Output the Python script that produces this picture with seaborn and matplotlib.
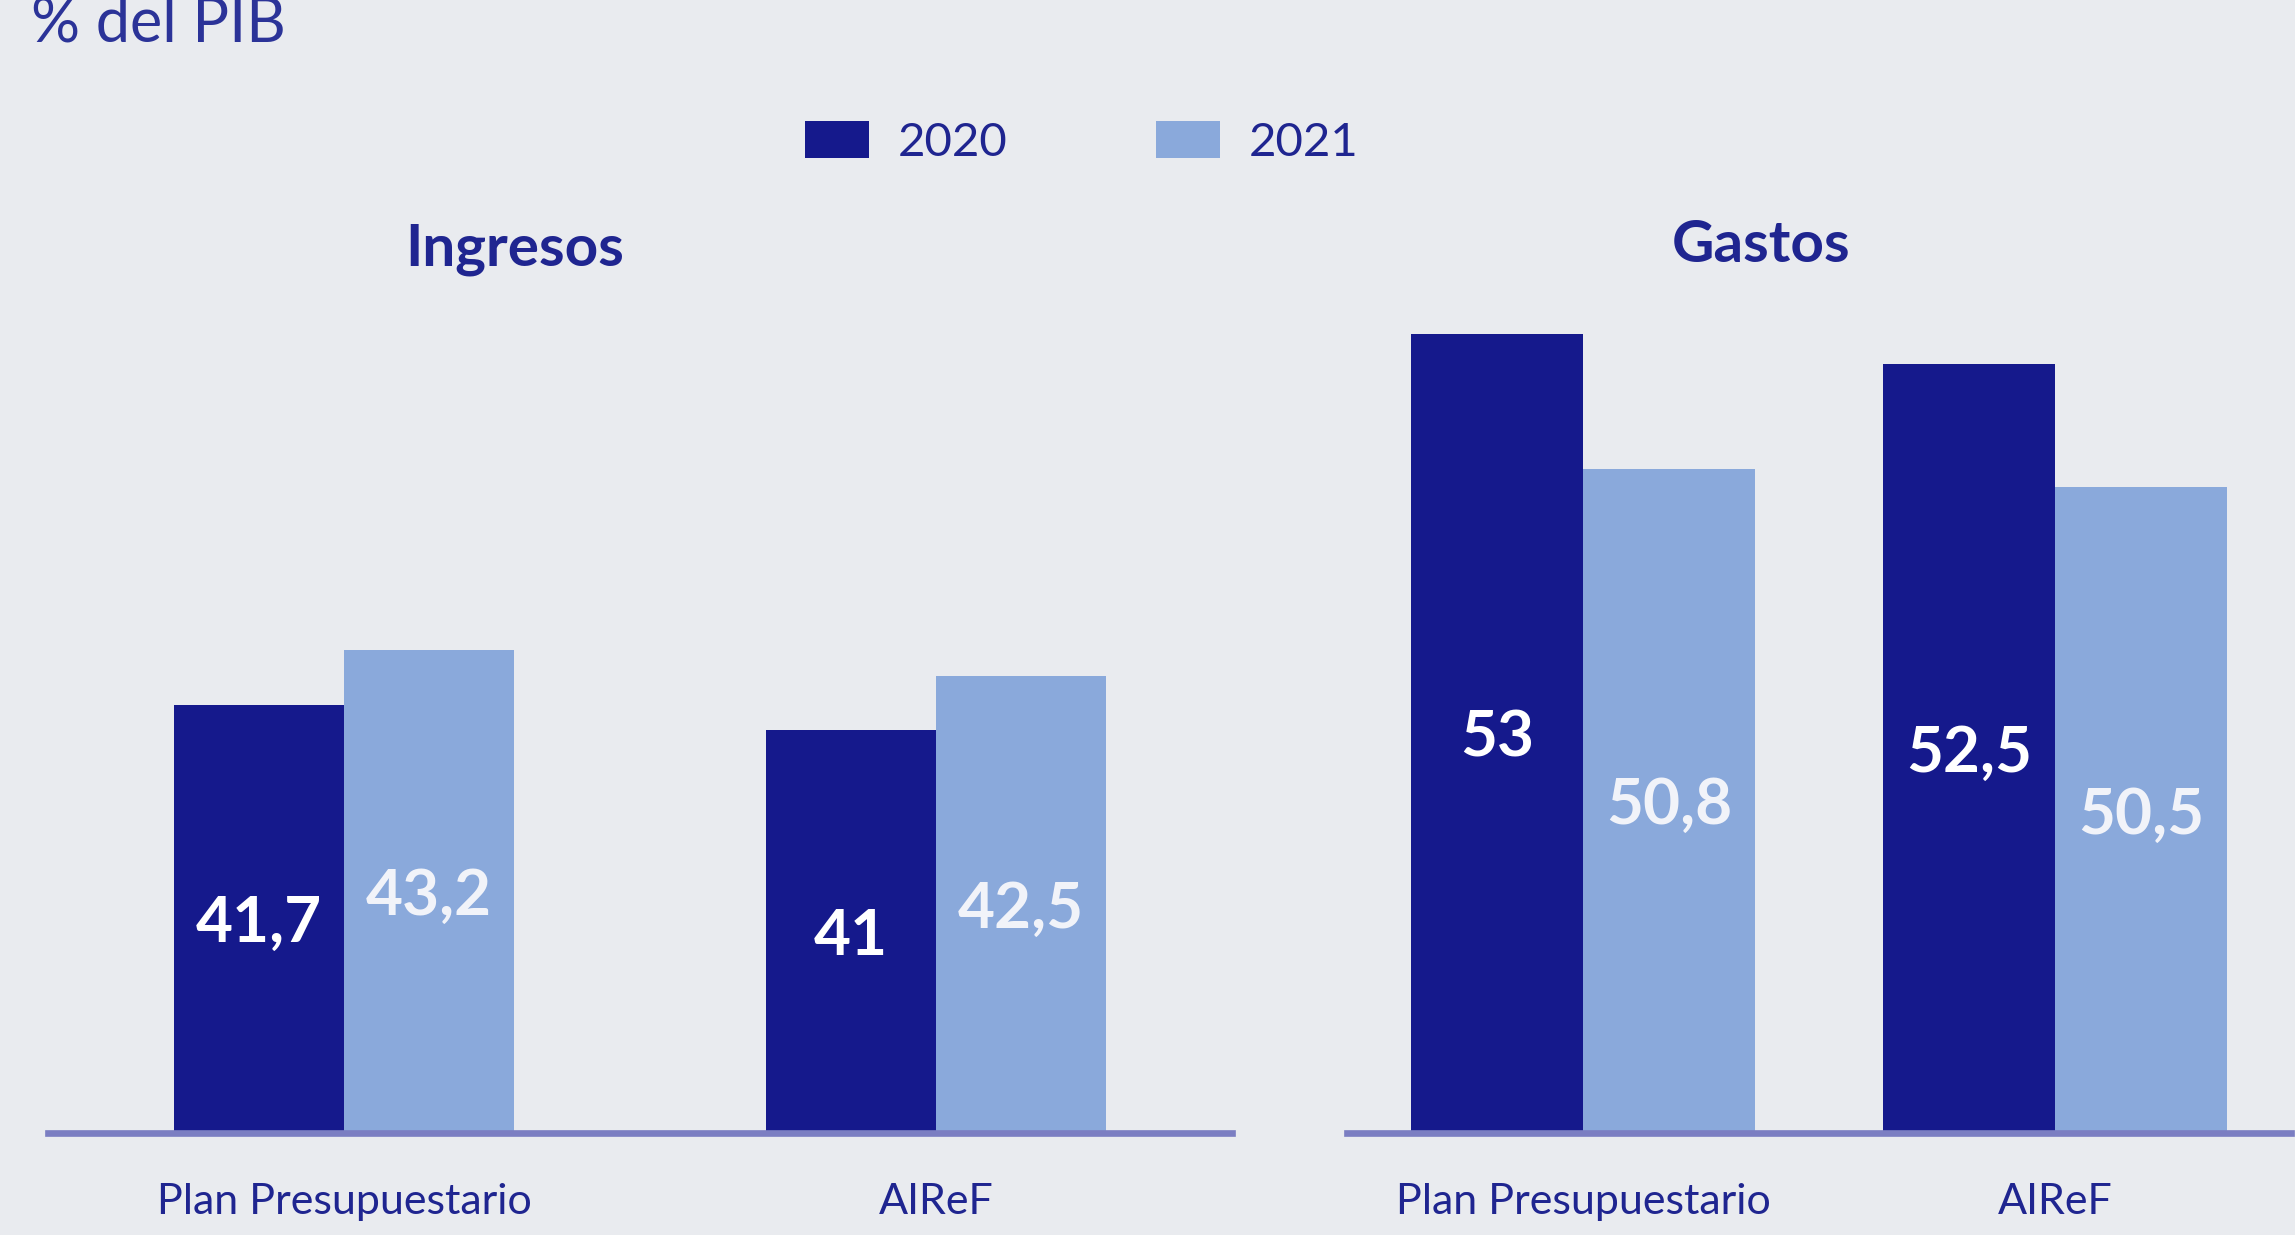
import matplotlib
matplotlib.use('Agg')
import matplotlib.pyplot as plt
import seaborn as sns
import pandas as pd

# ------------------------------------------------------------ #
# Data (% del PIB)
# ------------------------------------------------------------ #
categorias = ['Plan Presupuestario', 'AIReF']
anios = ['2020', '2021']
ingresos_2020 = [41.7, 41.0]
ingresos_2021 = [43.2, 42.5]
gastos_2020 = [53.0, 52.5]
gastos_2021 = [50.8, 50.5]

titulo = '% del PIB'
paneles = ['Ingresos', 'Gastos']

navy = '#15198c'
light = '#8aa9db'
text_navy = '#1f2590'
bg = '#e9ebef'


def long_df(v2020, v2021):
    rows = []
    for cat, a, b in zip(categorias, v2020, v2021):
        rows.append({'categoria': cat, 'anio': anios[0], 'valor': a})
        rows.append({'categoria': cat, 'anio': anios[1], 'valor': b})
    return pd.DataFrame(rows)


def fmt(v):
    s = ('%g' % v)
    return s.replace('.', ',')


sns.set_theme(style='white')
plt.rcParams['font.family'] = ['Lato', 'DejaVu Sans']

fig = plt.figure(figsize=(22.95, 12.35), dpi=100, facecolor=bg)

W, H = 2295, 1235
ax_l = fig.add_axes([48 / W, 1 - 1133 / H, 1184 / W, 833 / H])
ax_r = fig.add_axes([1347 / W, 1 - 1133 / H, 944 / W, 833 / H])

specs = [
    (ax_l, long_df(ingresos_2020, ingresos_2021), 0.575, (30, 30 + 833 / 36.6)),
    (ax_r, long_df(gastos_2020, gastos_2021), 0.73, (40, 40 + 833 / 61.5)),
]

for ax, df, w, ylim in specs:
    ax.set_facecolor('none')
    sns.barplot(data=df, x='categoria', y='valor', hue='anio',
                palette=[navy, light], width=w, saturation=1,
                linewidth=0, ax=ax, legend=True)
    ax.set_xlim(-0.5, 1.5)
    ax.set_ylim(*ylim)
    ax.set_xlabel('')
    ax.set_ylabel('')
    ax.set_yticks([])
    for side in ['top', 'left', 'right']:
        ax.spines[side].set_visible(False)
    ax.spines['bottom'].set_color('#7b7ec2')
    ax.spines['bottom'].set_linewidth(4.8)
    ax.tick_params(axis='x', length=0, pad=36, labelsize=31, labelcolor=text_navy)

    # value labels in the middle of the visible part of each bar
    for cont, col in zip(ax.containers, ['white', '#f1f3f9']):
        for patch, v in zip(cont.patches, cont.datavalues):
            x = patch.get_x() + patch.get_width() / 2
            ax.text(x, (ylim[0] + v) / 2, fmt(v), ha='center', va='center_baseline',
                    fontsize=46, fontweight='bold', color=col)

handles, labels = ax_l.get_legend_handles_labels()
ax_l.get_legend().remove()
ax_r.get_legend().remove()

fig.legend(handles, labels, loc='center', bbox_to_anchor=(1082 / W, 1 - 142.5 / H),
           ncol=2, frameon=False, fontsize=34, labelcolor=text_navy,
           handlelength=1.34, handleheight=0.81, handletextpad=0.62,
           columnspacing=3.15, borderpad=0)

fig.text(31 / W, 1 - 42 / H, titulo, ha='left', va='baseline',
         fontsize=44, fontweight='normal', color='#2b3398')
fig.text(515 / W, 1 - 265 / H, paneles[0], ha='center', va='baseline',
         fontsize=42, fontweight='bold', color=text_navy)
fig.text(1761 / W, 1 - 262 / H, paneles[1], ha='center', va='baseline',
         fontsize=42, fontweight='bold', color=text_navy)

fig.savefig('out.png', dpi=100, facecolor=bg)
